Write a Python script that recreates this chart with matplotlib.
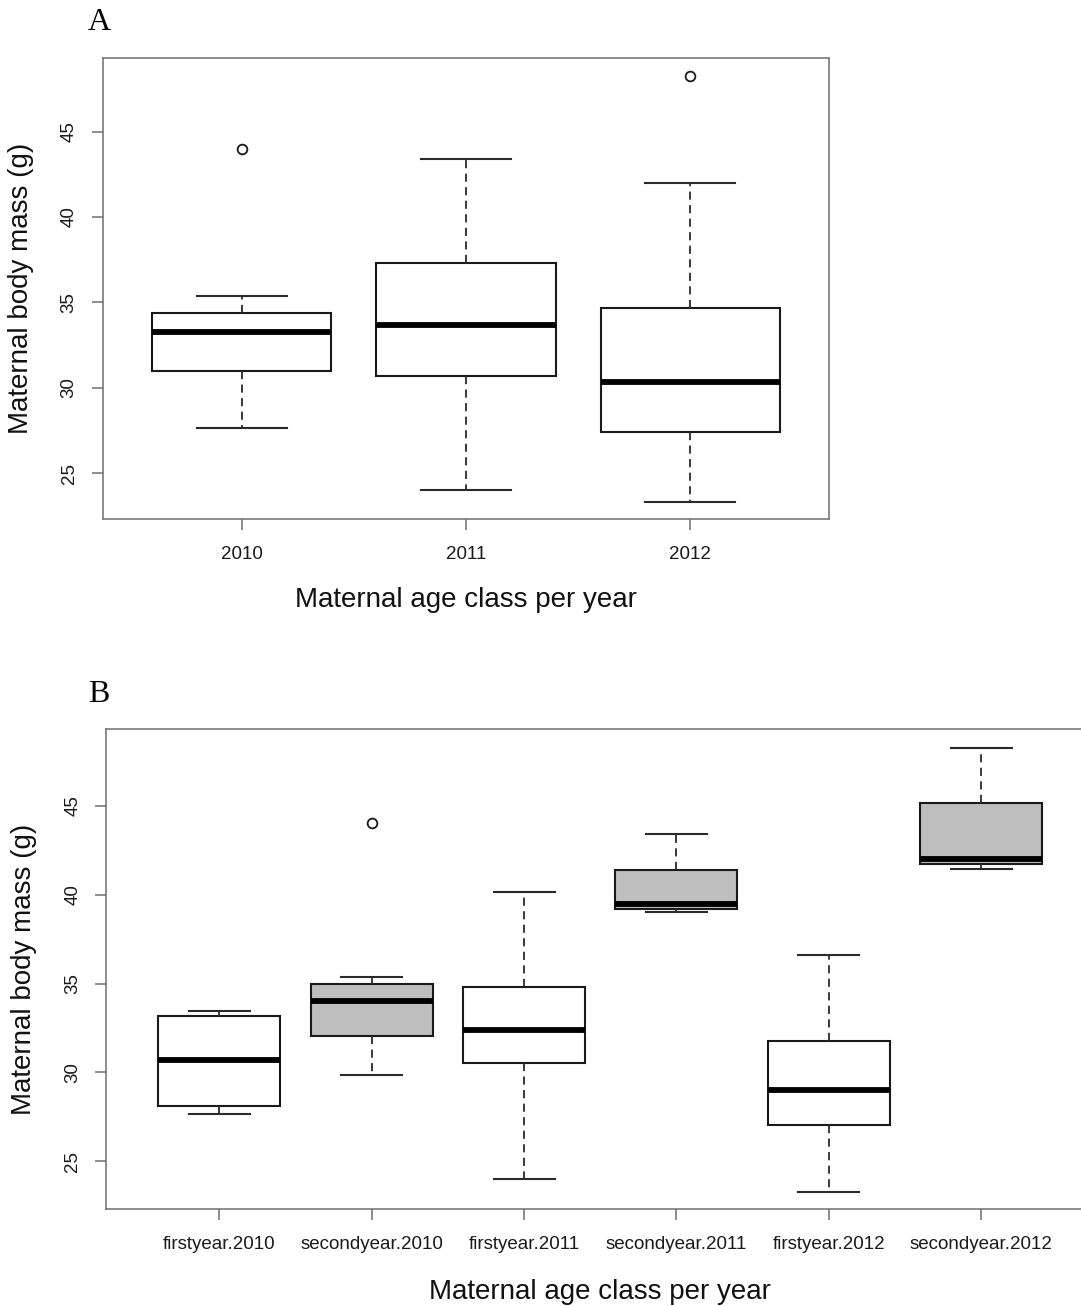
import matplotlib
matplotlib.use("Agg")
import matplotlib.pyplot as plt

plt.rcParams['font.family'] = ['Liberation Sans', 'DejaVu Sans']

# Panel A: body mass by year
anos = ['2010', '2011', '2012']
med_a = [33.24, 33.70, 30.35]
q1_a = [30.98, 30.68, 27.44]
q3_a = [34.37, 37.32, 34.70]
lo_a = [27.64, 24.02, 23.30]
hi_a = [35.39, 43.39, 41.98]
out_a = [[44.0], [], [48.28]]

# Panel B: body mass by age class and year
grupos = ['firstyear.2010', 'secondyear.2010', 'firstyear.2011',
          'secondyear.2011', 'firstyear.2012', 'secondyear.2012']
med_b = [30.73, 34.03, 32.38, 39.45, 28.99, 42.03]
q1_b = [28.09, 32.05, 30.53, 39.22, 27.04, 41.71]
q3_b = [33.20, 35.00, 34.83, 41.40, 31.76, 45.15]
lo_b = [27.66, 29.87, 24.01, 39.01, 23.30, 41.43]
hi_b = [33.48, 35.36, 40.13, 43.39, 36.60, 48.28]
out_b = [[], [44.01], [], [], [], []]
cores_b = ['white', '#bebebe', 'white', '#bebebe', 'white', '#bebebe']

COR_EIXO = '#6e6e6e'


def montar_stats(labels, med, q1, q3, lo, hi, out):
    stats = []
    for i in range(len(labels)):
        stats.append({'label': labels[i], 'med': med[i], 'q1': q1[i],
                      'q3': q3[i], 'whislo': lo[i], 'whishi': hi[i],
                      'fliers': out[i]})
    return stats


def desenhar_painel(ax, labels, stats, cores, pad_x):
    n = len(labels)
    bp = ax.bxp(stats, positions=range(1, n + 1), widths=0.8,
                capwidths=0.4, patch_artist=True, manage_ticks=False,
                boxprops=dict(edgecolor='#1a1a1a', linewidth=1.5),
                medianprops=dict(color='black', linewidth=4.2,
                                 solid_capstyle='butt'),
                whiskerprops=dict(color='#2a2a2a', linewidth=1.3,
                                  linestyle=(0, (4.5, 3))),
                capprops=dict(color='#2a2a2a', linewidth=1.5),
                flierprops=dict(marker='o', markerfacecolor='none',
                                markeredgecolor='#1a1a1a',
                                markeredgewidth=1.3, markersize=7))
    for caixa, cor in zip(bp['boxes'], cores):
        caixa.set_facecolor(cor)

    # Limites no estilo R (4% de folga)
    ax.set_xlim(0.5 - 0.04 * n, n + 0.5 + 0.04 * n)
    ax.set_ylim(22.3, 49.3)

    ax.set_xticks(range(1, n + 1))
    ax.set_xticklabels(labels)
    ax.set_yticks([25, 30, 35, 40, 45])
    for lbl in ax.get_yticklabels():
        lbl.set_rotation(90)
        lbl.set_va('center')

    ax.tick_params(axis='both', direction='out', length=8, width=1.1,
                   color=COR_EIXO, labelsize=13.5, labelcolor='#1a1a1a')
    ax.tick_params(axis='x', pad=11)
    ax.tick_params(axis='y', pad=10)
    for lado in ax.spines.values():
        lado.set_color(COR_EIXO)
        lado.set_linewidth(1.1)

    ax.set_xlabel('Maternal age class per year', fontsize=20,
                  labelpad=pad_x, color='#111111')
    ax.set_ylabel('Maternal body mass (g)', fontsize=20, color='#111111')


fig = plt.figure(figsize=(10.81, 13.06), dpi=100)
fig.patch.set_facecolor('white')

ax_a = fig.add_axes([0.0950, 0.6024, 0.6722, 0.3530])
desenhar_painel(ax_a, anos,
                montar_stats(anos, med_a, q1_a, q3_a, lo_a, hi_a, out_a),
                ['white'] * len(anos), 17.5)
ax_a.yaxis.set_label_coords(-0.0945, 0.5)

ax_b = fig.add_axes([0.0985, 0.0740, 0.9135, 0.3675])
desenhar_painel(ax_b, grupos,
                montar_stats(grupos, med_b, q1_b, q3_b, lo_b, hi_b, out_b),
                cores_b, 19)
ax_b.yaxis.set_label_coords(-0.0704, 0.5)

# Letras dos painéis
fig.text(88 / 1081, 1 - 22 / 1306, 'A', fontsize=23, va='center', ha='left',
         family=['Liberation Serif', 'DejaVu Serif'])
fig.text(88 / 1081, 1 - 694 / 1306, 'B', fontsize=23, va='center', ha='left',
         family=['Liberation Serif', 'DejaVu Serif'])

fig.savefig('out.png', dpi=100, facecolor='white')
